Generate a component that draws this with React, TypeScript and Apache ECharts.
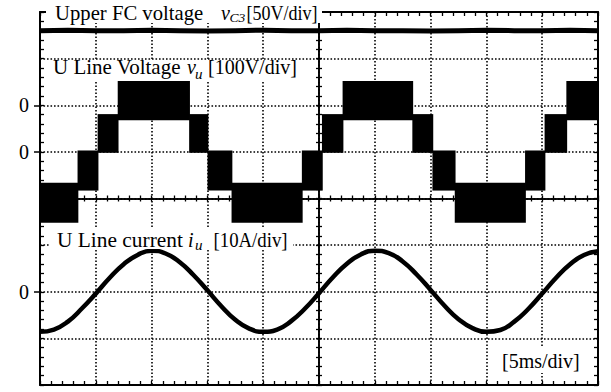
import React, { useEffect, useRef } from "react";
import * as echarts from "echarts";

// ---- time base: 5 ms/div, 10 divisions ----
const timeTicksMs = [0, 5, 10, 15, 20, 25, 30, 35, 40, 45, 50];

// ---- Upper FC voltage v_C3 (V), 50 V/div, zero reference at +2 div ----
const fcTimeMs = [0, 2.5, 5, 7.5, 10, 12.5, 15, 17.5, 20, 22.5, 25, 27.5, 30, 32.5, 35, 37.5, 40, 42.5, 45, 47.5, 50];
const fcVoltageV = [80, 80.5, 80, 80, 80.5, 80, 79.5, 80, 80.5, 80, 80, 80.5, 80, 80, 79.5, 80, 80.5, 80, 80, 80.5, 80];

// ---- U line voltage v_u (V), 100 V/div, zero reference at +1 div ----
// switching instants (ms) and the PWM band occupied in each interval
const lvSwitchMs = [0, 3.4, 5.2, 7.0, 13.4, 15.05, 17.2, 23.5, 25.3, 27.15, 33.4, 35.2, 37.2, 43.5, 45.25, 47.2, 50];
const lvBandSeq = [-2, -1, 1, 2, 1, -1, -2, -1, 1, 2, 1, -1, -2, -1, 1, 2];
const bandIds = [-2, -1, 1, 2];
const bandLowV = [-152, -83, -2, 68];
const bandHighV = [-66, 3, 81, 152];

// ---- U line current i_u (A), 10 A/div, zero reference at -2 div ----
const curTimeMs = [0, 1.25, 2.5, 3.75, 5, 6.25, 7.5, 8.75, 10, 11.25, 12.5, 13.75, 15, 16.25, 17.5, 18.75, 20, 21.25, 22.5, 23.75, 25, 26.25, 27.5, 28.75, 30, 31.25, 32.5, 33.75, 35, 36.25, 37.5, 38.75, 40, 41.25, 42.5, 43.75, 45, 46.25, 47.5, 48.75, 50];
const currentA = [-8.6, -8.1, -6.4, -3.6, -0.4, 3.0, 5.9, 7.9, 8.8, 8.2, 6.4, 3.6, 0.3, -3.1, -6.0, -7.9, -8.6, -8.1, -6.3, -3.6, -0.3, 3.1, 6.0, 8.0, 8.8, 8.3, 6.5, 3.7, 0.4, -3.0, -5.9, -7.8, -8.6, -8.2, -6.4, -3.7, -0.4, 3.0, 5.9, 7.9, 8.7];

// ---- channel scales and zero references (divisions) ----
const fcScale = 50;
const lvScale = 100;
const iScale = 10;
const fcZeroDiv = 2;
const lvZeroDiv = 1;
const iZeroDiv = -2;
const zeroMarkDiv = [fcZeroDiv, lvZeroDiv, iZeroDiv];

const FONT = "'Liberation Serif', 'Times New Roman', serif";

function buildOption() {
  const rect = { left: 40, right: 13, top: 12, bottom: 7 };
  const black = "#000";
  const tick = (inside: boolean, len = 4) => ({
    axisTick: { show: true, inside, length: len, lineStyle: { color: black, width: 1.3 } },
    minorTick: { show: true, splitNumber: 5, length: len, lineStyle: { color: black, width: 1.3 } },
  });
  const dotted = { show: true, lineStyle: { color: black, width: 1.6, type: [1.6, 1.9] } };
  const xMain = {
    type: "value", min: timeTicksMs[0], max: timeTicksMs[timeTicksMs.length - 1], interval: 5,
    axisLabel: { show: false }, splitLine: { show: false },
    axisLine: { show: true, onZero: false, lineStyle: { color: black, width: 2 } },
    ...tick(true),
  };
  const yMain = {
    type: "value", min: -4, max: 4, interval: 1,
    axisLabel: { show: false }, splitLine: { show: false },
    axisLine: { show: true, onZero: false, lineStyle: { color: black, width: 2 } },
    ...tick(true),
  };
  const xCenter = (inside: boolean, gi: number) => ({
    type: "value", min: -25, max: 25, interval: 5, gridIndex: gi,
    axisLabel: { show: false }, splitLine: { show: false },
    axisLine: { show: true, onZero: true, lineStyle: { color: black, width: 1.6 } },
    ...tick(inside, 3),
  });
  const yCenter = (inside: boolean, gi: number) => ({
    type: "value", min: -4, max: 4, interval: 1, gridIndex: gi,
    axisLabel: { show: false }, splitLine: { show: false },
    axisLine: { show: true, onZero: true, lineStyle: { color: black, width: 1.6 } },
    ...tick(inside, 3),
  });

  const lvData = lvBandSeq.map((b, i) => {
    const k = bandIds.indexOf(b);
    return [lvSwitchMs[i], lvSwitchMs[i + 1], lvZeroDiv + bandLowV[k] / lvScale, lvZeroDiv + bandHighV[k] / lvScale];
  });

  const txt = (text: string, x: number, baseline: number, size = 20, italic = false, sx = 1) => ({
    type: "text", x, y: baseline - 0.34 * size, z: 101, scaleX: sx,
    style: {
      text, fill: black, fontSize: size, fontFamily: FONT, fontStyle: italic ? "italic" : "normal",
      align: "left", verticalAlign: "middle", textAlign: "left", textVerticalAlign: "middle",
    },
  });
  const box = (x: number, y: number, w: number, h: number) => ({
    type: "rect", z: 100, shape: { x, y, width: w, height: h }, style: { fill: "#fff" },
  });

  return {
    animation: false,
    backgroundColor: "#fff",
    grid: [
      { ...rect, show: false },
      { ...rect, show: false },
      { ...rect, show: false },
      { ...rect, show: false },
    ],
    xAxis: [
      { ...xMain, gridIndex: 0, position: "bottom", splitLine: dotted },
      { ...xMain, gridIndex: 0, position: "top" },
      xCenter(true, 1),
      xCenter(false, 2),
      { type: "value", gridIndex: 3, min: 0, max: 50, show: false },
    ],
    yAxis: [
      { ...yMain, gridIndex: 0, position: "left", splitLine: dotted },
      { ...yMain, gridIndex: 0, position: "right" },
      yCenter(true, 1),
      yCenter(false, 2),
      {
        type: "value", gridIndex: 3, min: -4, max: 4, interval: 1, position: "left",
        axisLine: { show: false, onZero: false },
        splitLine: { show: false },
        axisTick: { show: true, inside: false, length: 6, customValues: zeroMarkDiv, lineStyle: { color: black, width: 1.5 } },
        axisLabel: {
          show: true, customValues: zeroMarkDiv, formatter: () => "0",
          fontSize: 20, fontFamily: FONT, color: black, margin: 11,
        },
      },
    ],
    series: [
      {
        type: "line", name: "vC3", xAxisIndex: 0, yAxisIndex: 0, showSymbol: false, silent: true,
        data: fcTimeMs.map((t, i) => [t, fcZeroDiv + fcVoltageV[i] / fcScale]),
        lineStyle: { color: black, width: 5 },
      },
      {
        type: "custom", name: "vu", xAxisIndex: 0, yAxisIndex: 0, silent: true,
        encode: { x: [0, 1], y: [2, 3] },
        data: lvData,
        renderItem: (_p: any, api: any) => {
          const a = api.coord([api.value(0), api.value(3)]);
          const b = api.coord([api.value(1), api.value(2)]);
          return {
            type: "rect",
            shape: { x: a[0] - 0.4, y: a[1], width: b[0] - a[0] + 0.8, height: b[1] - a[1] },
            style: { fill: black },
          };
        },
      },
      {
        type: "line", name: "iu", xAxisIndex: 0, yAxisIndex: 0, showSymbol: false, silent: true, smooth: true,
        data: curTimeMs.map((t, i) => [t, iZeroDiv + currentA[i] / iScale]),
        lineStyle: { color: black, width: 4.5 },
      },
    ],
    graphic: {
      elements: [
        box(46, 0, 276, 23),
        txt("Upper FC voltage", 55, 20, 20, false, 1.035),
        txt("v", 221, 20, 20, true),
        txt("C3", 229.5, 22, 13.5, true),
        txt("[50V/div]", 246.5, 20, 20, false, 0.9),
        box(50, 61, 252, 20),
        txt("U Line Voltage", 53, 73.5, 20, false, 1.05),
        txt("v", 187, 73.5, 20, true),
        txt("u", 195, 79, 15, true),
        txt("[100V/div]", 208, 73.5, 20, false, 1.0),
        box(50, 228, 243, 21),
        txt("U Line current", 57, 247, 20, false, 1.07),
        txt("i", 188, 247, 20, true),
        txt("u", 195, 250, 15, true),
        txt("[10A/div]", 213.5, 247, 20, false, 0.94),
        box(499, 347, 88, 26),
        txt("[5ms/div]", 502, 368),
      ],
    },
  };
}

export default function App() {
  const ref = useRef<HTMLDivElement>(null);
  useEffect(() => {
    if (!ref.current) return;
    const chart = echarts.init(ref.current, undefined, { renderer: "svg" });
    chart.setOption(buildOption() as any);
    return () => chart.dispose();
  }, []);
  return (
    <div
      ref={ref}
      style={{ position: "fixed", left: 0, top: 0, width: 611, height: 392, background: "#fff" }}
    />
  );
}
